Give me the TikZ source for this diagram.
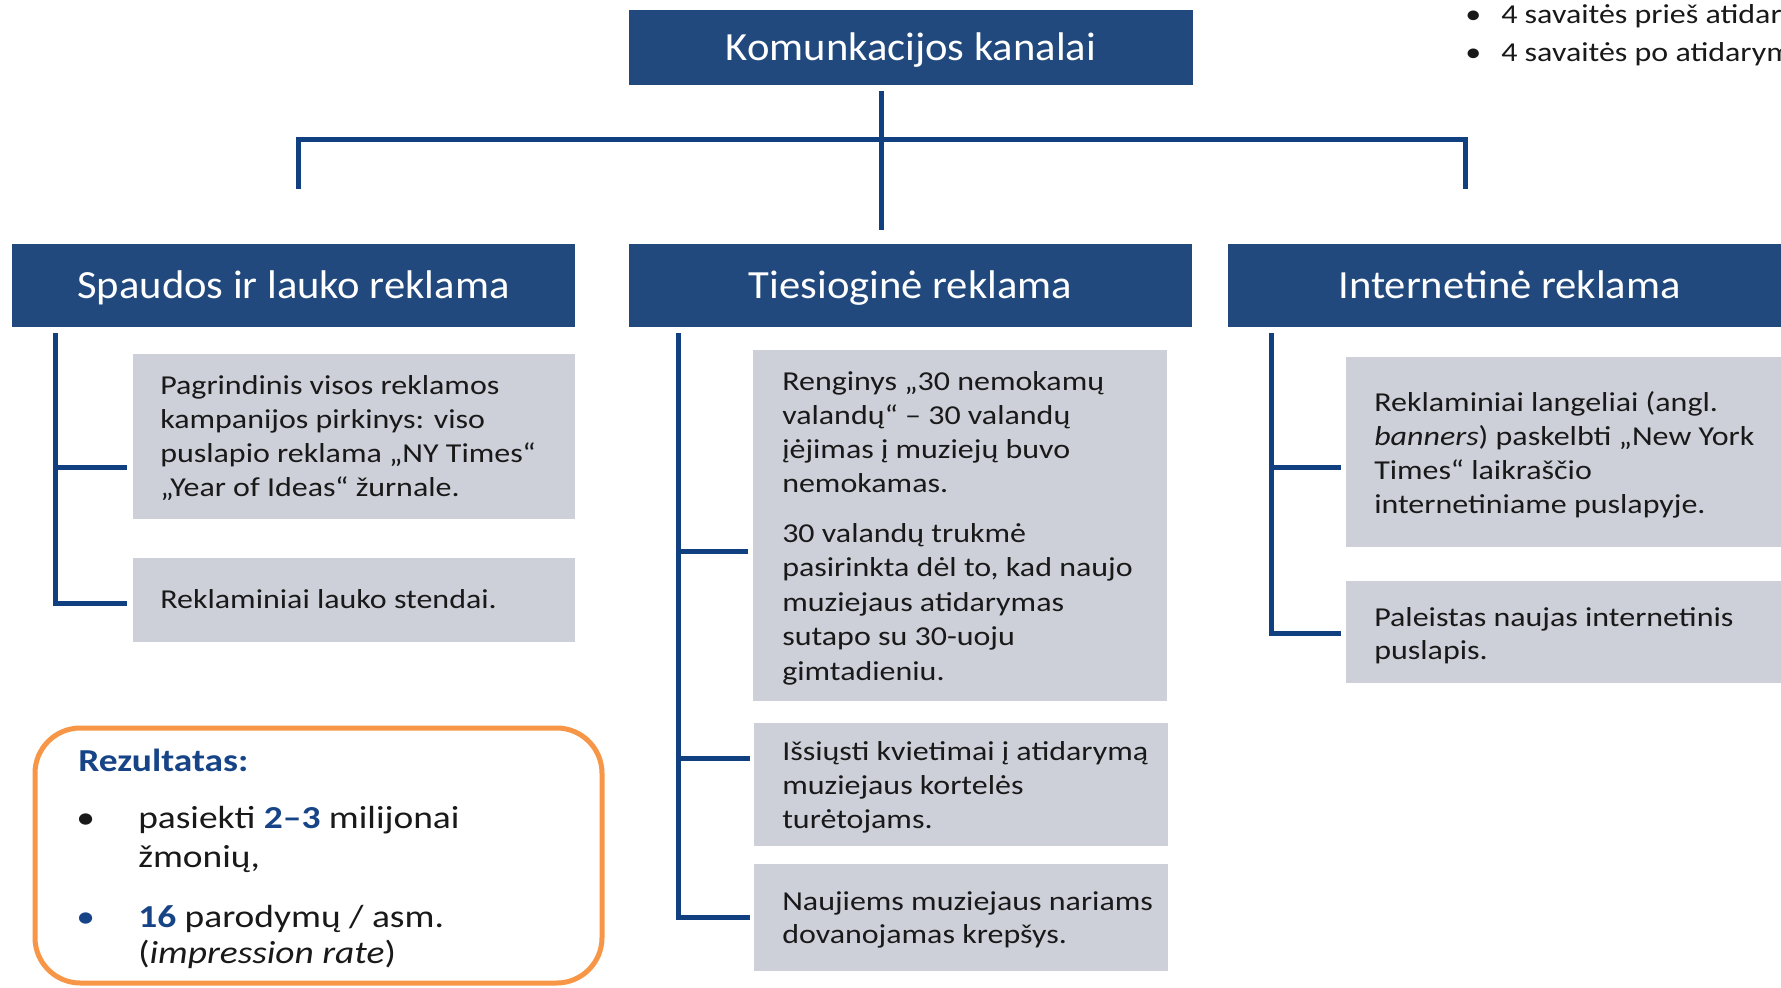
\documentclass[tikz,border=0pt]{standalone}
\usepackage{fontspec}
\setmainfont{Carlito}[FakeStretch=1.17]
\newfontfamily\hdrfont{Carlito}[FakeStretch=1.065]
\usetikzlibrary{fit}
\definecolor{hdr}{RGB}{33,73,125}
\definecolor{connc}{RGB}{16,64,128}
\definecolor{gbox}{RGB}{205,207,217}
\definecolor{orng}{RGB}{247,150,70}
\definecolor{bluetxt}{RGB}{22,68,135}
\definecolor{bodytxt}{RGB}{25,25,25}
\begin{document}
\begin{tikzpicture}[x=0.75pt,y=-0.75pt,
  hbox/.style={fill=hdr, inner sep=0pt},
  htxt/.style={anchor=base, inner sep=0pt, text=white, font=\hdrfont\fontsize{30}{36}\selectfont},
  gbx/.style={fill=gbox, inner sep=0pt},
  conn/.style={draw=connc, line width=3.75pt, line join=miter},
  body/.style={anchor=base west, inner sep=0pt, text=bodytxt, font=\fontsize{20.5}{24}\selectfont},
  res/.style={anchor=base west, inner sep=0pt, text=bodytxt, font=\fontsize{24}{29}\selectfont}]
\path[use as bounding box] (0,0) rectangle (1781,988);
\clip (0,0) rectangle (1781,988);
\fill[white] (0,0) rectangle (1781,988);

% header boxes
\node[hbox, fit={(629,10) (1193,85)}] (top) {};
\node[hbox, fit={(12,244) (575,327)}] (h1) {};
\node[hbox, fit={(629,244) (1192,327)}] (h2) {};
\node[hbox, fit={(1228,244) (1791,327)}] (h3) {};
\node[htxt] (topt) at ([yshift=-9.75pt]top.center) {Komunkacijos kanalai};
\node[htxt] (h1t) at ([yshift=-9.75pt]h1.center) {Spaudos ir lauko reklama};
\node[htxt] (h2t) at ([yshift=-9.75pt]h2.center) {Tiesioginė reklama};
\node[htxt] (h3t) at ([yshift=-9.75pt]h3.center) {Internetinė reklama};

% gray boxes
\node[gbx, fit={(133,354) (575,519)}] (ga) {};
\node[gbx, fit={(133,558) (575,642)}] (gb) {};
\node[gbx, fit={(753,350) (1167,701)}] (gc) {};
\node[gbx, fit={(754,723) (1168,846)}] (gd) {};
\node[gbx, fit={(754,864) (1168,971)}] (ge) {};
\node[gbx, fit={(1346,357) (1800,547)}] (gf) {};
\node[gbx, fit={(1346,581) (1800,683)}] (gg) {};

% top tree
\coordinate (tA) at (881,91);
\coordinate (tB) at (881,230);
\coordinate (dL) at (298,189);
\coordinate (dR) at (1465.5,189);
\draw[conn] (tA) -- (tB);
\draw[conn] (dL) -- (298,139.5) -- (1465.5,139.5) -- (dR);

% column connectors
\coordinate (c1) at (55,333);
\coordinate (c2) at (678.5,333);
\coordinate (c3) at (1271,333);
\draw[conn] (c1) |- (127,603);
\draw[conn] (55,467) -- (127,467);
\draw[conn] (c2) |- (750,917);
\draw[conn] (678.5,551) -- (748,551);
\draw[conn] (678.5,758) -- (750,758);
\draw[conn] (c3) |- (1341,633);
\draw[conn] (1271,467) -- (1341,467);

% texts column 1
\foreach \t [count=\i] in {Pagrindinis visos reklamos, kampanijos pirkinys: viso, puslapio reklama „NY Times“, „Year of Ideas“ žurnale.}
  \node[body] (ta\i) at (160,{394+34.2*(\i-1)}) {\t};
\node[body] (tb1) at (160,608) {Reklaminiai lauko stendai.};

% texts column 2
\foreach \t [count=\i] in {Renginys „30 nemokamų, valandų“ – 30 valandų, įėjimas į muziejų buvo, nemokamas.}
  \node[body] (tc\i) at (782,{390+34.3*(\i-1)}) {\t};
\foreach \t [count=\i] in {30 valandų trukmė, {pasirinkta dėl to, kad naujo}, muziejaus atidarymas, sutapo su 30-uoju, gimtadieniu.}
  \node[body] (tcc\i) at (782,{542+34.5*(\i-1)}) {\t};
\foreach \t [count=\i] in {Išsiųsti kvietimai į atidarymą, muziejaus kortelės, turėtojams.}
  \node[body] (td\i) at (782,{760+34*(\i-1)}) {\t};
\foreach \t [count=\i] in {Naujiems muziejaus nariams, dovanojamas krepšys.}
  \node[body] (te\i) at (782,{910+33.5*(\i-1)}) {\t};

% texts column 3
\foreach \t [count=\i] in {Reklaminiai langeliai (angl., \textit{banners}) paskelbti „New York, Times“ laikraščio, internetiniame puslapyje.}
  \node[body] (tf\i) at (1374,{411+34*(\i-1)}) {\t};
\foreach \t [count=\i] in {Paleistas naujas internetinis, puslapis.}
  \node[body] (tg\i) at (1374,{626+33*(\i-1)}) {\t};

% top right bullets
\node[body] (bu1) at (1465,24) {•};
\node[body] (bt1) at (1501,24) {4 savaitės prieš atidar};
\node[body] (bu2) at (1465,62) {•};
\node[body] (bt2) at (1501,62) {4 savaitės po atidarym};

% result box
\node[fit={(35,728) (602,983)}, draw=orng, line width=3.75pt, rounded corners=34pt, inner sep=0pt] (resbox) {};
\node[res, text=bluetxt, font=\fontsize{24}{29}\selectfont\bfseries] (rt) at (78,771) {Rezultatas:};
\node[res] (r1b) at (76,828) {•};
\node[res] (r1) at (138,828) {pasiekti \textbf{\color{bluetxt}2–3} milijonai};
\node[res] (r2) at (138,867) {žmonių,};
\node[res, text=bluetxt] (r3b) at (76,927) {•};
\node[res] (r3) at (138,927) {\textbf{\color{bluetxt}16} parodymų / asm.};
\node[res] (r4) at (138,963) {(\textit{impression rate})};
\end{tikzpicture}
\end{document}
